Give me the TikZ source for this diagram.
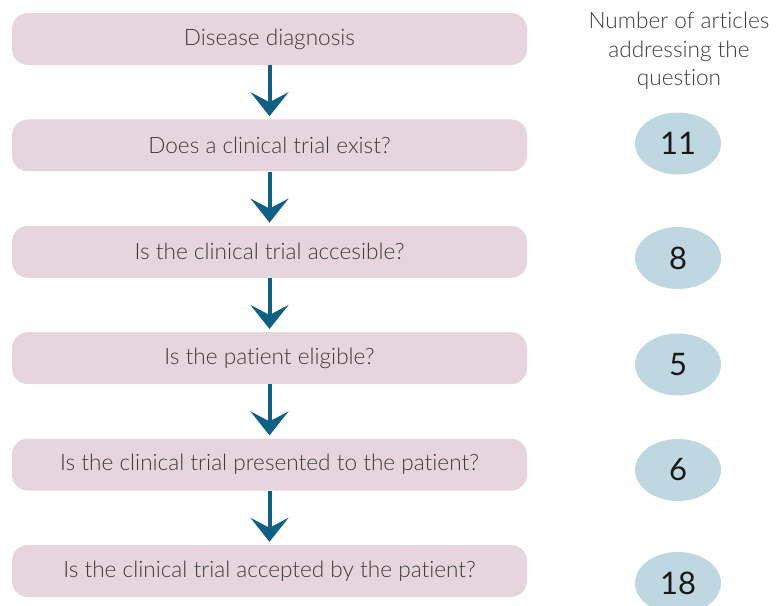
\documentclass[tikz,border=0pt]{standalone}
\usepackage{fontspec}
\setmainfont{Lato}
\newfontfamily\latolight{Lato Light}[Ligatures=NoCommon]
\usetikzlibrary{arrows.meta,positioning,shapes.geometric}
\definecolor{boxpink}{HTML}{E6D5DC}
\definecolor{bubbleblue}{HTML}{BFD7E0}
\definecolor{arrowblue}{HTML}{106086}
\definecolor{textgray}{HTML}{3C3C3C}
\tikzset{
  question box/.style={
    rectangle,
    rounded corners=16pt,
    fill=boxpink,
    minimum width=515pt,
    minimum height=52pt,
    text=textgray,
    font=\latolight\fontsize{22.6}{27}\selectfont
  },
  count bubble/.style={
    ellipse,
    fill=bubbleblue,
    minimum width=86pt,
    minimum height=62pt,
    inner sep=0pt,
    text=black!90,
    font=\fontsize{31}{36}\selectfont
  },
  flow arrow/.style={
    draw=arrowblue,
    line width=4pt,
    -{Stealth[length=24pt,width=38pt,inset=10pt]}
  },
}
\begin{document}
\begin{tikzpicture}[x=1pt,y=-1pt,node distance=54pt]
    \useasboundingbox (0,0) rectangle (779,605);
    \node[question box] (q1) at (269.5,39) {Disease diagnosis};
    \node[question box,below=of q1] (q2) {Does a clinical trial exist?};
    \node[question box,below=of q2] (q3) {Is the clinical trial accesible?};
    \node[question box,below=of q3] (q4) {Is the patient eligible?};
    \node[question box,below=of q4] (q5) {Is the clinical trial presented to the patient?};
    \node[question box,below=of q5] (q6) {Is the clinical trial accepted by the patient?};
    \foreach \a/\b in {q1/q2,q2/q3,q3/q4,q4/q5,q5/q6}
    \draw[flow arrow] (\a.south) -- ([yshift=3pt]\b.north);
    \node[align=center,text=textgray,font=\latolight\fontsize{22.6}{28.5}\selectfont] (head) at (679,51) {Number of articles\\addressing the\\question};
    \node[count bubble] (n2) at (678,143.5) {11};
    \node[count bubble] (n3) at (678,258) {8};
    \node[count bubble] (n4) at (678,364.5) {5};
    \node[count bubble] (n5) at (678,470) {6};
    \node[count bubble] (n6) at (678,583) {18};
\end{tikzpicture}
\end{document}
